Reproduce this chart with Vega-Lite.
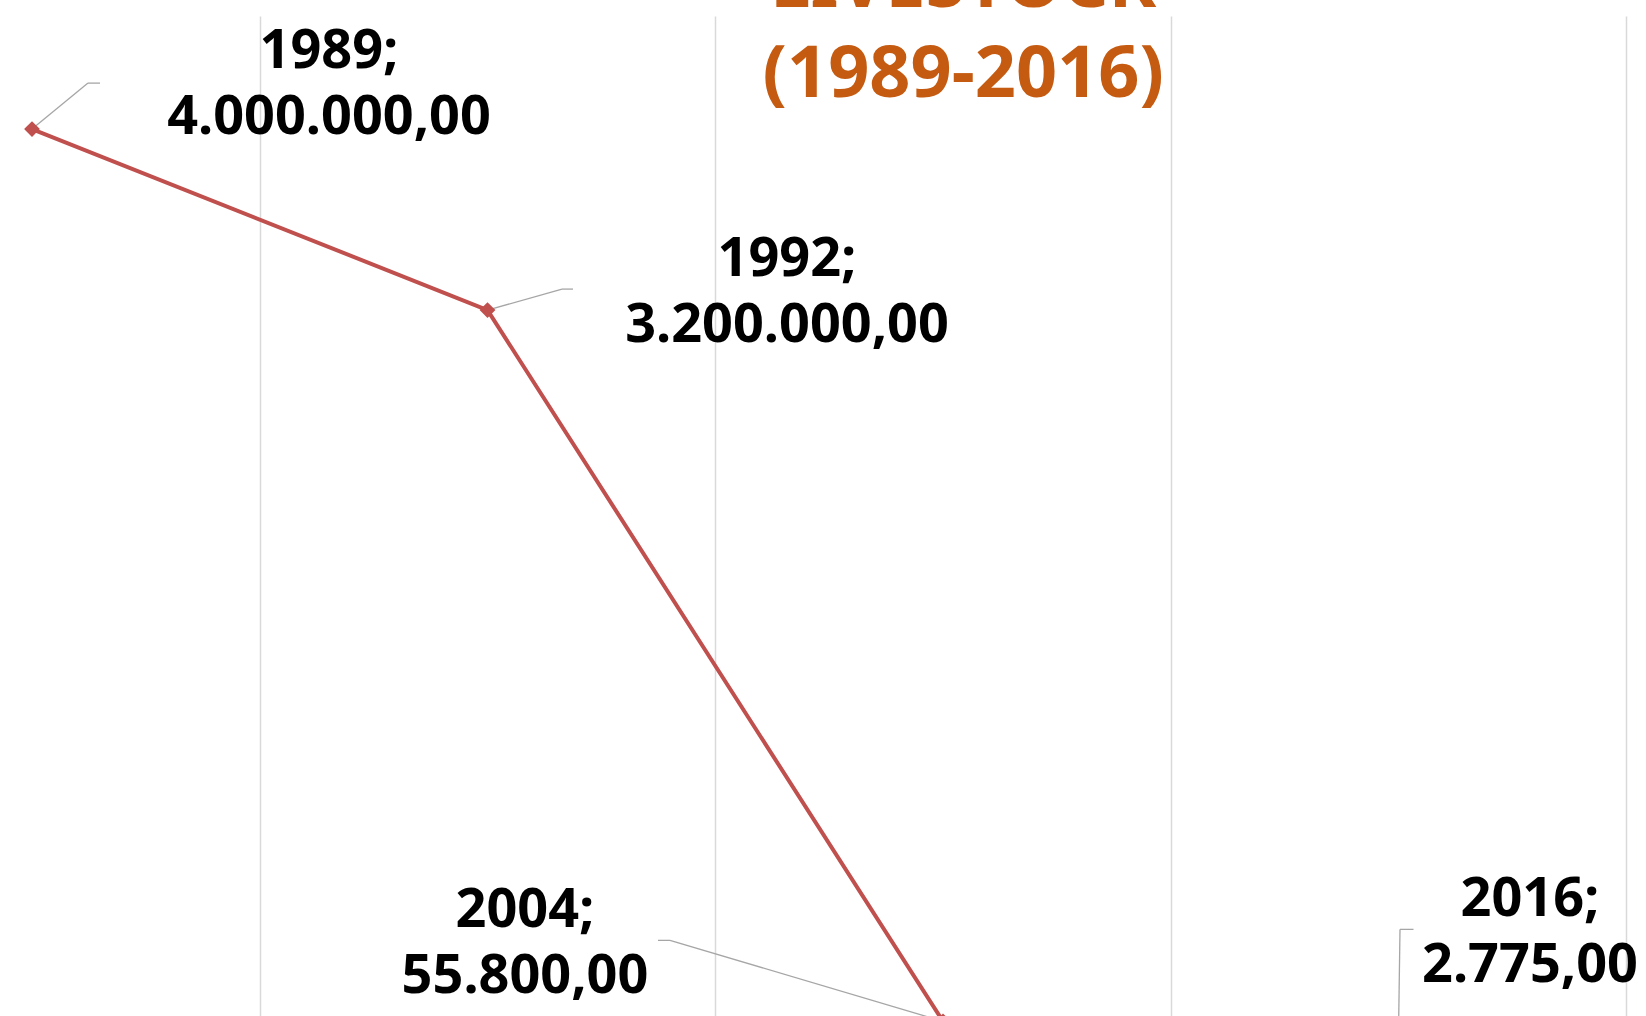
{
  "$schema": "https://vega.github.io/schema/vega-lite/v6.json",
  "autosize": "none",
  "width": 1366.5,
  "height": 1018,
  "padding": {"left": 32, "top": 16, "right": 247.5, "bottom": 0},
  "background": "white",
  "title": {
    "text": ["LIVESTOCK", "(1989-2016)"],
    "anchor": "middle",
    "frame": "group",
    "dx": 248,
    "dy": 162,
    "offset": 9,
    "baseline": "alphabetic",
    "lineHeight": 90,
    "font": "Noto Sans",
    "fontSize": 72,
    "fontWeight": "bold",
    "color": "#C55A11"
  },
  "config": {
    "view": {"stroke": null},
    "locale": {"number": {"decimal": ",", "thousands": ".", "grouping": [3], "currency": ["", ""]}}
  },
  "data": {
    "values": [
      {"year": "1989", "value": 4000000},
      {"year": "1992", "value": 3200000},
      {"year": "2004", "value": 55800},
      {"year": "2016", "value": 2775}
    ]
  },
  "transform": [
    {"calculate": "[datum.year + ';', format(datum.value, ',.2f')]", "as": "label"}
  ],
  "encoding": {
    "x": {
      "field": "year",
      "type": "ordinal",
      "sort": null,
      "scale": {"type": "point", "padding": 0},
      "axis": {
        "title": null,
        "labels": false,
        "ticks": false,
        "domain": false,
        "grid": true,
        "gridColor": "#D9D9D9",
        "gridWidth": 1.5,
        "tickOffset": 227.75
      }
    },
    "y": {
      "field": "value",
      "type": "quantitative",
      "scale": {"domain": [0, 4500000], "nice": false, "zero": true},
      "axis": null
    }
  },
  "layer": [
    {
      "transform": [{"filter": "datum.year == '1989'"}],
      "mark": {"type": "rule", "color": "#A6A6A6", "strokeWidth": 1.3, "x2Offset": 56, "y2Offset": -46},
      "encoding": {"x2": {"field": "year"}, "y2": {"field": "value"}}
    },
    {
      "transform": [{"filter": "datum.year == '1989'"}],
      "mark": {"type": "rule", "color": "#A6A6A6", "strokeWidth": 1.3, "xOffset": 56, "yOffset": -46, "x2Offset": 68, "y2Offset": -46},
      "encoding": {"x2": {"field": "year"}, "y2": {"field": "value"}}
    },
    {
      "transform": [{"filter": "datum.year == '1992'"}],
      "mark": {"type": "rule", "color": "#A6A6A6", "strokeWidth": 1.3, "x2Offset": 74.5, "y2Offset": -21},
      "encoding": {"x2": {"field": "year"}, "y2": {"field": "value"}}
    },
    {
      "transform": [{"filter": "datum.year == '1992'"}],
      "mark": {"type": "rule", "color": "#A6A6A6", "strokeWidth": 1.3, "xOffset": 74.5, "yOffset": -21, "x2Offset": 85.5, "y2Offset": -21},
      "encoding": {"x2": {"field": "year"}, "y2": {"field": "value"}}
    },
    {
      "transform": [{"filter": "datum.year == '2004'"}],
      "mark": {"type": "rule", "color": "#A6A6A6", "strokeWidth": 1.3, "x2Offset": -273, "y2Offset": -81},
      "encoding": {"x2": {"field": "year"}, "y2": {"field": "value"}}
    },
    {
      "transform": [{"filter": "datum.year == '2004'"}],
      "mark": {"type": "rule", "color": "#A6A6A6", "strokeWidth": 1.3, "xOffset": -273, "yOffset": -81, "x2Offset": -285, "y2Offset": -81},
      "encoding": {"x2": {"field": "year"}, "y2": {"field": "value"}}
    },
    {
      "transform": [{"filter": "datum.year == '2016'"}],
      "mark": {"type": "rule", "color": "#A6A6A6", "strokeWidth": 1.3, "x2Offset": 1.5, "y2Offset": -104},
      "encoding": {"x2": {"field": "year"}, "y2": {"field": "value"}}
    },
    {
      "transform": [{"filter": "datum.year == '2016'"}],
      "mark": {"type": "rule", "color": "#A6A6A6", "strokeWidth": 1.3, "xOffset": 1.5, "yOffset": -104, "x2Offset": 15, "y2Offset": -104},
      "encoding": {"x2": {"field": "year"}, "y2": {"field": "value"}}
    },
    {
      "mark": {"type": "line", "color": "#C0504D", "strokeWidth": 4},
      "encoding": {}
    },
    {
      "mark": {"type": "point", "shape": "diamond", "filled": true, "color": "#C0504D", "size": 250, "opacity": 1},
      "encoding": {}
    },
    {
      "transform": [{"filter": "datum.year == '1989'"}],
      "mark": {"type": "text", "font": "Noto Sans", "fontSize": 54, "fontWeight": "bold", "color": "black", "align": "center", "baseline": "alphabetic", "lineHeight": 66, "dx": 297, "dy": -61},
      "encoding": {"text": {"field": "label"}}
    },
    {
      "transform": [{"filter": "datum.year == '1992'"}],
      "mark": {"type": "text", "font": "Noto Sans", "fontSize": 54, "fontWeight": "bold", "color": "black", "align": "center", "baseline": "alphabetic", "lineHeight": 66, "dx": 299.5, "dy": -34},
      "encoding": {"text": {"field": "label"}}
    },
    {
      "transform": [{"filter": "datum.year == '2004'"}],
      "mark": {"type": "text", "font": "Noto Sans", "fontSize": 54, "fontWeight": "bold", "color": "black", "align": "center", "baseline": "alphabetic", "lineHeight": 66, "dx": -418, "dy": -94},
      "encoding": {"text": {"field": "label"}}
    },
    {
      "transform": [{"filter": "datum.year == '2016'"}],
      "mark": {"type": "text", "font": "Noto Sans", "fontSize": 54, "fontWeight": "bold", "color": "black", "align": "center", "baseline": "alphabetic", "lineHeight": 66, "dx": 131.5, "dy": -117},
      "encoding": {"text": {"field": "label"}}
    }
  ]
}
